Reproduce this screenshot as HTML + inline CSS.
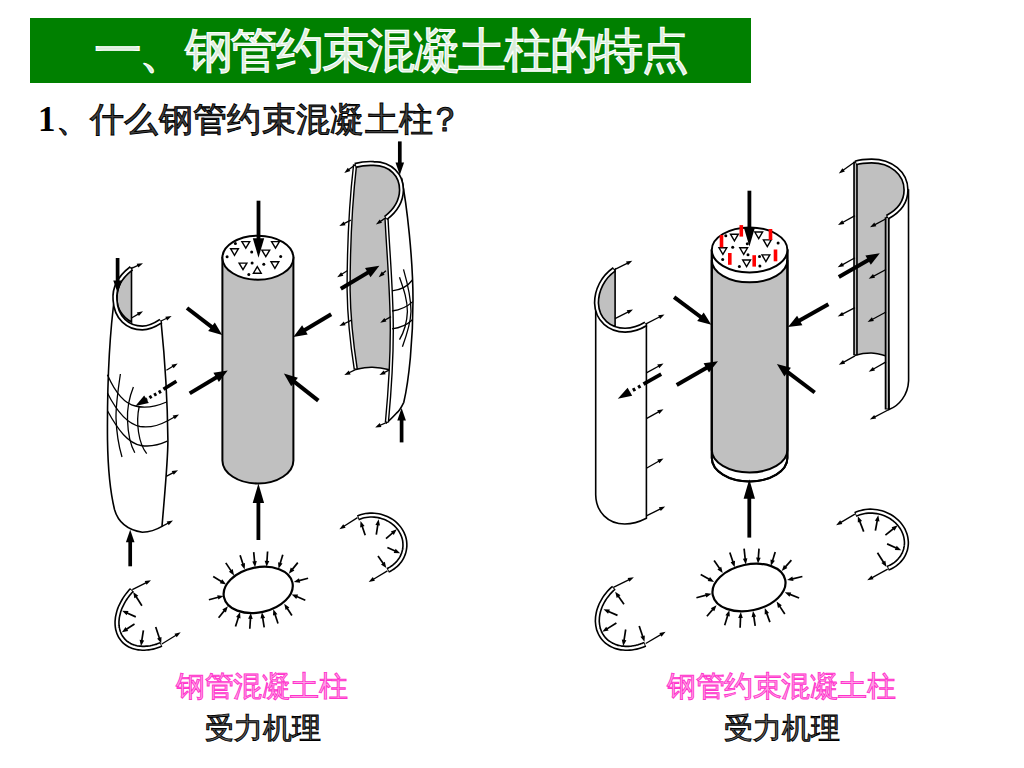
<!DOCTYPE html>
<html><head><meta charset="utf-8"><style>
html,body{margin:0;padding:0;background:#fff;width:1024px;height:768px;overflow:hidden}
body{position:relative;font-family:"Liberation Sans",sans-serif}
.t{position:absolute;white-space:nowrap;line-height:1}
#bar{position:absolute;left:30px;top:18px;width:721px;height:65px;background:#008000}
#title{left:93.5px;top:27px;font-size:47.5px;letter-spacing:-2.4px;color:#d8ecd8;-webkit-text-stroke:1.1px #fff;font-weight:500}
#q{left:38px;top:102px;font-size:34.3px;letter-spacing:0.3px;color:#444;-webkit-text-stroke:1px #000;font-weight:500}
#q b{font-family:"Liberation Serif",serif;font-weight:bold;font-size:35px;color:#000;-webkit-text-stroke:0}
.pink{color:#ffa0e6;-webkit-text-stroke:0.9px #ff33cc;font-size:28.6px;letter-spacing:-0.5px;font-weight:500}
.blk{color:#666;-webkit-text-stroke:1px #000;font-size:29px;font-weight:500}
svg{position:absolute;left:0;top:0}
</style></head><body>
<div id="bar"></div>
<div class="t" id="title">一、钢管约束混凝土柱的特点</div>
<div class="t" id="q"><b>1</b>、什么钢管约束混凝土柱<span style="margin-left:-5px">？</span></div>
<svg width="1024" height="768" viewBox="0 0 1024 768">
<path d="M222.39999999999998,257.7 L222.39999999999998,460.5 A35.5,23 0 0 0 293.4,460.5 L293.4,257.7 Z" fill="#c0c0c0" stroke="#000" stroke-width="2"/>
<ellipse cx="257.9" cy="257.7" rx="35.5" ry="22" fill="#fff" stroke="#000" stroke-width="2"/>
<polygon points="241.9,241.6 249.7,241.6 245.8,248.2" fill="#fff" stroke="#000" stroke-width="1.4"/>
<polygon points="230.6,248.7 238.4,248.7 234.5,255.3" fill="#fff" stroke="#000" stroke-width="1.4"/>
<polygon points="261.9,250.1 269.7,250.1 265.8,256.7" fill="#fff" stroke="#000" stroke-width="1.4"/>
<polygon points="271.6,241.6 279.4,241.6 275.5,248.2" fill="#fff" stroke="#000" stroke-width="1.4"/>
<polygon points="239.1,263.1 246.9,263.1 243.0,269.7" fill="#fff" stroke="#000" stroke-width="1.4"/>
<polygon points="271.0,261.8 278.8,261.8 274.9,268.4" fill="#fff" stroke="#000" stroke-width="1.4"/>
<polygon points="253.4,273.2 261.2,273.2 257.3,266.6" fill="#fff" stroke="#000" stroke-width="1.4"/>
<circle cx="235.4" cy="243.4" r="1.5" fill="#000"/>
<circle cx="227.1" cy="256.7" r="1.5" fill="#000"/>
<circle cx="251.7" cy="252.1" r="1.5" fill="#000"/>
<circle cx="280.7" cy="256.4" r="1.5" fill="#000"/>
<circle cx="252.1" cy="262.9" r="1.5" fill="#000"/>
<circle cx="263.8" cy="264.2" r="1.5" fill="#000"/>
<circle cx="248.8" cy="274.6" r="1.5" fill="#000"/>
<line x1="258.5" y1="200.7" x2="258.5" y2="246.0" stroke="#000" stroke-width="3.8"/>
<polygon points="258.5,257.7 252.8,238.2 264.2,238.2" fill="#000"/>
<line x1="258.4" y1="540.0" x2="258.4" y2="495.2" stroke="#000" stroke-width="3.8"/>
<polygon points="258.4,483.5 264.1,503.0 252.7,503.0" fill="#000"/>
<line x1="187.0" y1="308.0" x2="215.8" y2="330.1" stroke="#000" stroke-width="4.0"/>
<polygon points="222.2,335.0 208.2,331.1 214.8,322.5" fill="#000"/>
<line x1="331.2" y1="314.2" x2="300.2" y2="332.7" stroke="#000" stroke-width="4.0"/>
<polygon points="293.3,336.9 302.1,325.3 307.7,334.6" fill="#000"/>
<line x1="189.7" y1="393.4" x2="220.8" y2="374.7" stroke="#000" stroke-width="4.0"/>
<polygon points="227.7,370.5 218.9,382.1 213.4,372.8" fill="#000"/>
<line x1="318.3" y1="400.6" x2="290.3" y2="378.6" stroke="#000" stroke-width="4.0"/>
<polygon points="283.9,373.6 297.9,377.7 291.2,386.2" fill="#000"/>
<path d="M115,294 C110,330 107,380 107.5,440 C108,475 111,495 114.5,509.5 C118,522 128,530 142.4,532.3 C150,532 156,530 162,526.4 C165,490 168,460 167.9,440 C167.5,400 165,360 161,321" fill="#fff" stroke="#000" stroke-width="1.6"/>
<path d="M131.5,268.3 C122,276 117,287 117,299 C117,308 122,317 131.5,322 Z" fill="#c0c0c0" stroke="#000" stroke-width="1.6"/>
<path d="M131.5,268.3 C120,277 114,288 115,300 C116,318 128,328 142.3,328 C149,328 155,325 161,321" fill="none" stroke="#000" stroke-width="5.5"/>
<path d="M131.5,268.3 C120,277 114,288 115,300 C116,318 128,328 142.3,328 C149,328 155,325 161,321" fill="none" stroke="#fff" stroke-width="2.2" stroke-dasharray="99.4 111.2" stroke-dashoffset="-0.9"/>
<path d="M107.4,374.8 C115,392 125,404 135.4,406 C143,408 155,407 166.6,402" fill="none" stroke="#000" stroke-width="1.3"/>
<path d="M107.4,393 C117,412 128,424 140,426.5 C150,428 158,426 167.2,421" fill="none" stroke="#000" stroke-width="1.3"/>
<path d="M107.6,411 C118,430 128,443 141,445.5 C150,447 159,445 167.3,441.2" fill="none" stroke="#000" stroke-width="1.3"/>
<path d="M120.4,374 C118,390 115.8,405 116,418 C116.5,432 119,447 122,457" fill="none" stroke="#000" stroke-width="1.3"/>
<path d="M133.4,387 C129,398 127,408 127.5,420 C128,434 131,446 134.8,452.7" fill="none" stroke="#000" stroke-width="1.3"/>
<path d="M139.3,406 C137.5,414 137,422 138.5,432 C140,442 143,449 146.7,453.6" fill="none" stroke="#000" stroke-width="1.3"/>
<line x1="117.6" y1="258.0" x2="117.6" y2="285.5" stroke="#000" stroke-width="3.7"/>
<polygon points="117.6,293.0 113.3,280.5 121.9,280.5" fill="#000"/>
<line x1="130.2" y1="566.3" x2="130.2" y2="537.3" stroke="#000" stroke-width="3.7"/>
<polygon points="130.2,529.8 134.5,542.3 125.9,542.3" fill="#000"/>
<line x1="131.5" y1="268.3" x2="139.7" y2="264.7" stroke="#000" stroke-width="1.3"/>
<polygon points="143.0,263.2 138.4,267.6 136.7,263.7" fill="#000"/>
<line x1="131.5" y1="318.0" x2="139.9" y2="313.1" stroke="#000" stroke-width="1.3"/>
<polygon points="143.0,311.3 138.9,316.1 136.8,312.5" fill="#000"/>
<line x1="161.0" y1="321.0" x2="168.3" y2="317.5" stroke="#000" stroke-width="1.3"/>
<polygon points="171.6,316.0 167.1,320.5 165.3,316.7" fill="#000"/>
<line x1="166.4" y1="370.2" x2="174.6" y2="365.3" stroke="#000" stroke-width="1.3"/>
<polygon points="177.7,363.4 173.6,368.3 171.5,364.7" fill="#000"/>
<line x1="167.3" y1="421.0" x2="175.9" y2="416.2" stroke="#000" stroke-width="1.3"/>
<polygon points="179.0,414.5 174.8,419.2 172.7,415.6" fill="#000"/>
<line x1="166.2" y1="476.4" x2="174.8" y2="471.9" stroke="#000" stroke-width="1.3"/>
<polygon points="178.0,470.2 173.7,474.8 171.7,471.1" fill="#000"/>
<line x1="162.0" y1="526.4" x2="169.8" y2="522.2" stroke="#000" stroke-width="1.3"/>
<polygon points="173.0,520.5 168.7,525.2 166.7,521.5" fill="#000"/>
<line x1="176.4" y1="381.3" x2="163.5" y2="389.3" stroke="#000" stroke-width="3.6"/>
<line x1="161" y1="391.3" x2="146" y2="399.5" stroke="#000" stroke-width="3.3" stroke-dasharray="2.6 2.7"/>
<line x1="150.0" y1="397.0" x2="142.0" y2="401.9" stroke="#000" stroke-width="0.1"/>
<polygon points="135.4,406.0 144.2,395.4 148.8,402.9" fill="#000"/>
<path d="M355.1,164.4 C351,200 348.6,250 348.6,290 C349,320 352,345 355.8,369.4 C362,368 368,367 372.3,367.2 C378,367.5 384,368.5 389.5,369.8 C391,360 391.8,350 391.6,330 C391.6,300 389,260 386,218.1 C395,212 401.5,200 401.5,189.4 C401.5,174 391,163.5 373.7,163.5 C365,163.3 359,164 355.1,165.5 Z" fill="#c0c0c0" stroke="none"/>
<path d="M386,218 C395,212 401.5,200 401.5,189.4 C401.5,183 401.5,180 401.5,178 C407,205 413,260 413,300 C413,340 409,380 403.8,402.3 C401,408 398,412 396.6,413 C393,417 390,420 386.9,422.4 C389,400 391.6,350 391.6,330 C391.6,300 389,260 386,218 Z" fill="#fff" stroke="#000" stroke-width="1.6"/>
<path d="M355.8,369.4 C362,368 368,367 372.3,367.2 C378,367.5 384,368.5 389.5,369.8" fill="none" stroke="#000" stroke-width="1.6"/>
<path d="M355.1,164.4 C351,200 348.6,250 348.6,290 C349,320 352,345 355.8,369.4" fill="none" stroke="#000" stroke-width="4.4"/>
<path d="M355.1,164.4 C351,200 348.6,250 348.6,290 C349,320 352,345 355.8,369.4" fill="none" stroke="#fff" stroke-width="1.6" stroke-dasharray="203.8 215.6" stroke-dashoffset="-0.9"/>
<path d="M386.5,218.1 C388,250 391.8,290 391.8,330 C391.8,360 389,400 386.9,422.4" fill="none" stroke="#000" stroke-width="4.4"/>
<path d="M386.5,218.1 C388,250 391.8,290 391.8,330 C391.8,360 389,400 386.9,422.4" fill="none" stroke="#fff" stroke-width="1.6" stroke-dasharray="202.8 214.6" stroke-dashoffset="-0.9"/>
<path d="M355.1,165.5 C362,163.5 368,163.2 373.7,163.5 C391,163.7 401.5,175 401.5,190 C401.3,201 395,211 385.6,218.1" fill="none" stroke="#000" stroke-width="5.5"/>
<path d="M355.1,165.5 C362,163.5 368,163.2 373.7,163.5 C391,163.7 401.5,175 401.5,190 C401.3,201 395,211 385.6,218.1" fill="none" stroke="#fff" stroke-width="2.2" stroke-dasharray="93.5 105.3" stroke-dashoffset="-0.9"/>
<path d="M392,290.9 C400,290 408,286 412.4,280" fill="none" stroke="#000" stroke-width="1.3"/>
<path d="M392,311 C400,310 408,306 412.7,301.6" fill="none" stroke="#000" stroke-width="1.3"/>
<path d="M392,328.8 C400,328 408,324 412.7,319.5" fill="none" stroke="#000" stroke-width="1.3"/>
<path d="M399.5,277.2 C404,290 407.4,300 407.4,311.6 C407,322 404,332 399.5,339.6" fill="none" stroke="#000" stroke-width="1.3"/>
<path d="M403.5,269.4 C408,285 411,300 411,311.6 C410.5,325 406,337 402.4,346.7" fill="none" stroke="#000" stroke-width="1.3"/>
<line x1="399.8" y1="141.4" x2="399.8" y2="167.6" stroke="#000" stroke-width="3.7"/>
<polygon points="399.8,175.1 395.5,162.6 404.1,162.6" fill="#000"/>
<line x1="401.6" y1="442.4" x2="401.6" y2="415.5" stroke="#000" stroke-width="3.7"/>
<polygon points="401.6,408.0 405.9,420.5 397.3,420.5" fill="#000"/>
<line x1="340.8" y1="288.7" x2="372.4" y2="269.9" stroke="#000" stroke-width="4.0"/>
<polygon points="379.4,265.8 370.5,277.3 365.0,268.0" fill="#000"/>
<line x1="355.0" y1="165.0" x2="347.2" y2="170.8" stroke="#000" stroke-width="1.3"/>
<polygon points="344.3,173.0 347.8,167.7 350.4,171.1" fill="#000"/>
<line x1="350.8" y1="220.2" x2="342.5" y2="224.4" stroke="#000" stroke-width="1.3"/>
<polygon points="339.3,226.0 343.7,221.4 345.6,225.2" fill="#000"/>
<line x1="385.2" y1="218.1" x2="378.9" y2="222.5" stroke="#000" stroke-width="1.3"/>
<polygon points="375.9,224.5 379.7,219.4 382.0,222.8" fill="#000"/>
<line x1="347.2" y1="270.8" x2="340.2" y2="275.3" stroke="#000" stroke-width="1.3"/>
<polygon points="337.2,277.2 341.1,272.2 343.4,275.7" fill="#000"/>
<line x1="385.9" y1="270.8" x2="381.4" y2="274.8" stroke="#000" stroke-width="1.3"/>
<polygon points="378.7,277.2 381.8,271.6 384.6,274.8" fill="#000"/>
<line x1="351.5" y1="320.2" x2="342.6" y2="324.5" stroke="#000" stroke-width="1.3"/>
<polygon points="339.3,326.0 343.8,321.5 345.6,325.3" fill="#000"/>
<line x1="391.0" y1="316.6" x2="383.3" y2="321.0" stroke="#000" stroke-width="1.3"/>
<polygon points="380.2,322.8 384.4,318.0 386.4,321.6" fill="#000"/>
<line x1="356.0" y1="369.4" x2="347.5" y2="373.5" stroke="#000" stroke-width="1.3"/>
<polygon points="344.3,375.1 348.8,370.6 350.6,374.4" fill="#000"/>
<line x1="389.5" y1="369.8" x2="382.6" y2="373.4" stroke="#000" stroke-width="1.3"/>
<polygon points="379.4,375.1 383.7,370.5 385.7,374.2" fill="#000"/>
<line x1="386.9" y1="422.4" x2="378.4" y2="426.0" stroke="#000" stroke-width="1.3"/>
<polygon points="375.1,427.4 379.8,423.1 381.4,427.0" fill="#000"/>
<path d="M132.0,589.8 L130.3,591.6 L128.8,593.4 L127.3,595.3 L125.9,597.2 L124.6,599.2 L123.4,601.2 L122.3,603.2 L121.3,605.2 L120.3,607.3 L119.5,609.3 L118.8,611.4 L118.3,613.5 L117.8,615.5 L117.4,617.5 L117.2,619.5 L117.0,621.5 L117.0,623.5 L117.1,625.4 L117.3,627.2 L117.6,629.1 L118.1,630.8 L118.6,632.5 L119.3,634.1 L120.0,635.7 L120.9,637.2 L121.9,638.6 L123.0,639.9 L124.1,641.2 L125.4,642.3 L126.8,643.4 L128.2,644.3 L129.7,645.2 L131.4,646.0 L133.0,646.6 L134.8,647.2 L136.6,647.6 L138.5,647.9 L140.4,648.1 L142.4,648.3 L144.4,648.3 L146.4,648.1 L148.5,647.9 L150.6,647.6 L152.7,647.2 L154.9,646.6 L157.0,646.0 L159.2,645.2 L161.3,644.3" fill="none" stroke="#000" stroke-width="5.5"/>
<path d="M132.0,589.8 L130.3,591.6 L128.8,593.4 L127.3,595.3 L125.9,597.2 L124.6,599.2 L123.4,601.2 L122.3,603.2 L121.3,605.2 L120.3,607.3 L119.5,609.3 L118.8,611.4 L118.3,613.5 L117.8,615.5 L117.4,617.5 L117.2,619.5 L117.0,621.5 L117.0,623.5 L117.1,625.4 L117.3,627.2 L117.6,629.1 L118.1,630.8 L118.6,632.5 L119.3,634.1 L120.0,635.7 L120.9,637.2 L121.9,638.6 L123.0,639.9 L124.1,641.2 L125.4,642.3 L126.8,643.4 L128.2,644.3 L129.7,645.2 L131.4,646.0 L133.0,646.6 L134.8,647.2 L136.6,647.6 L138.5,647.9 L140.4,648.1 L142.4,648.3 L144.4,648.3 L146.4,648.1 L148.5,647.9 L150.6,647.6 L152.7,647.2 L154.9,646.6 L157.0,646.0 L159.2,645.2 L161.3,644.3" fill="none" stroke="#fff" stroke-width="2.3" stroke-dasharray="95.1 106.9" stroke-dashoffset="-0.9"/>
<line x1="132.3" y1="589.7" x2="147.8" y2="581.8" stroke="#000" stroke-width="1.3"/>
<polygon points="151.0,580.2 146.6,584.8 144.7,581.0" fill="#000"/>
<line x1="141.9" y1="605.8" x2="135.1" y2="595.0" stroke="#000" stroke-width="1.7"/>
<polygon points="133.2,591.9 138.3,595.8 134.4,598.2" fill="#000"/>
<line x1="135.8" y1="616.9" x2="125.4" y2="612.3" stroke="#000" stroke-width="1.7"/>
<polygon points="122.1,610.8 128.5,611.1 126.6,615.3" fill="#000"/>
<line x1="134.5" y1="624.0" x2="124.9" y2="630.3" stroke="#000" stroke-width="1.7"/>
<polygon points="121.9,632.3 125.6,627.1 128.2,630.9" fill="#000"/>
<line x1="143.4" y1="630.3" x2="141.5" y2="642.4" stroke="#000" stroke-width="1.7"/>
<polygon points="141.0,646.0 139.6,639.7 144.2,640.4" fill="#000"/>
<line x1="155.7" y1="627.0" x2="160.0" y2="639.9" stroke="#000" stroke-width="1.7"/>
<polygon points="161.2,643.3 157.1,638.4 161.5,636.9" fill="#000"/>
<line x1="161.8" y1="644.0" x2="177.6" y2="634.2" stroke="#000" stroke-width="1.3"/>
<polygon points="180.7,632.3 176.7,637.2 174.5,633.7" fill="#000"/>
<ellipse cx="258.2" cy="589.9" rx="35" ry="22.5" transform="rotate(-12 258.2 589.9)" fill="#fff" stroke="#000" stroke-width="2.2"/>
<line x1="225.8" y1="562.9" x2="232.1" y2="572.4" stroke="#000" stroke-width="1.7"/>
<polygon points="234.1,575.4 228.9,571.7 232.7,569.1" fill="#000"/>
<line x1="240.1" y1="555.3" x2="243.6" y2="566.0" stroke="#000" stroke-width="1.7"/>
<polygon points="244.7,569.4 240.7,564.4 245.0,563.0" fill="#000"/>
<line x1="253.7" y1="552.2" x2="254.8" y2="563.6" stroke="#000" stroke-width="1.7"/>
<polygon points="255.1,567.2 252.3,561.4 256.8,561.0" fill="#000"/>
<line x1="267.6" y1="551.5" x2="266.8" y2="563.2" stroke="#000" stroke-width="1.7"/>
<polygon points="266.6,566.8 264.7,560.7 269.3,561.0" fill="#000"/>
<line x1="282.8" y1="554.8" x2="279.6" y2="565.3" stroke="#000" stroke-width="1.7"/>
<polygon points="278.5,568.7 278.1,562.3 282.5,563.6" fill="#000"/>
<line x1="297.8" y1="562.6" x2="291.1" y2="570.9" stroke="#000" stroke-width="1.7"/>
<polygon points="288.8,573.7 290.8,567.6 294.4,570.5" fill="#000"/>
<line x1="308.1" y1="578.2" x2="297.3" y2="581.1" stroke="#000" stroke-width="1.7"/>
<polygon points="293.8,582.0 299.0,578.2 300.2,582.7" fill="#000"/>
<line x1="305.3" y1="600.2" x2="295.0" y2="595.8" stroke="#000" stroke-width="1.7"/>
<polygon points="291.7,594.4 298.1,594.6 296.3,598.9" fill="#000"/>
<line x1="291.9" y1="615.5" x2="286.2" y2="606.7" stroke="#000" stroke-width="1.7"/>
<polygon points="284.2,603.7 289.4,607.5 285.6,610.0" fill="#000"/>
<line x1="278.0" y1="623.5" x2="274.4" y2="612.6" stroke="#000" stroke-width="1.7"/>
<polygon points="273.3,609.2 277.4,614.2 273.0,615.6" fill="#000"/>
<line x1="264.2" y1="627.4" x2="262.4" y2="615.9" stroke="#000" stroke-width="1.7"/>
<polygon points="261.9,612.3 265.1,617.9 260.5,618.6" fill="#000"/>
<line x1="249.8" y1="628.8" x2="250.6" y2="616.6" stroke="#000" stroke-width="1.7"/>
<polygon points="250.8,613.0 252.7,619.1 248.1,618.8" fill="#000"/>
<line x1="235.5" y1="626.4" x2="239.0" y2="615.4" stroke="#000" stroke-width="1.7"/>
<polygon points="240.1,612.0 240.5,618.4 236.1,617.0" fill="#000"/>
<line x1="218.6" y1="617.8" x2="225.6" y2="609.1" stroke="#000" stroke-width="1.7"/>
<polygon points="227.9,606.3 225.9,612.4 222.3,609.5" fill="#000"/>
<line x1="208.9" y1="599.7" x2="220.1" y2="596.8" stroke="#000" stroke-width="1.7"/>
<polygon points="223.6,595.9 218.4,599.6 217.2,595.2" fill="#000"/>
<line x1="213.2" y1="576.5" x2="223.0" y2="582.5" stroke="#000" stroke-width="1.7"/>
<polygon points="226.1,584.4 219.8,583.2 222.2,579.3" fill="#000"/>
<path d="M357.9,517.8 L359.8,517.1 L361.8,516.4 L363.8,515.9 L365.8,515.5 L367.9,515.3 L370.0,515.1 L372.1,515.1 L374.3,515.2 L376.4,515.4 L378.4,515.7 L380.5,516.2 L382.5,516.8 L384.5,517.5 L386.5,518.3 L388.3,519.2 L390.1,520.2 L391.9,521.3 L393.5,522.5 L395.1,523.8 L396.5,525.2 L397.9,526.7 L399.2,528.3 L400.3,529.9 L401.3,531.6 L402.2,533.3 L403.0,535.1 L403.7,536.9 L404.2,538.7 L404.6,540.6 L404.8,542.5 L404.9,544.4 L404.9,546.3 L404.7,548.2 L404.4,550.0 L404.0,551.9 L403.4,553.7 L402.7,555.5 L401.9,557.2 L401.0,558.9 L399.9,560.5 L398.7,562.0 L397.4,563.5 L396.0,564.9 L394.5,566.2 L392.9,567.4 L391.2,568.5 L389.5,569.5 L387.7,570.4" fill="none" stroke="#000" stroke-width="5.5"/>
<path d="M357.9,517.8 L359.8,517.1 L361.8,516.4 L363.8,515.9 L365.8,515.5 L367.9,515.3 L370.0,515.1 L372.1,515.1 L374.3,515.2 L376.4,515.4 L378.4,515.7 L380.5,516.2 L382.5,516.8 L384.5,517.5 L386.5,518.3 L388.3,519.2 L390.1,520.2 L391.9,521.3 L393.5,522.5 L395.1,523.8 L396.5,525.2 L397.9,526.7 L399.2,528.3 L400.3,529.9 L401.3,531.6 L402.2,533.3 L403.0,535.1 L403.7,536.9 L404.2,538.7 L404.6,540.6 L404.8,542.5 L404.9,544.4 L404.9,546.3 L404.7,548.2 L404.4,550.0 L404.0,551.9 L403.4,553.7 L402.7,555.5 L401.9,557.2 L401.0,558.9 L399.9,560.5 L398.7,562.0 L397.4,563.5 L396.0,564.9 L394.5,566.2 L392.9,567.4 L391.2,568.5 L389.5,569.5 L387.7,570.4" fill="none" stroke="#fff" stroke-width="2.3" stroke-dasharray="94.3 106.1" stroke-dashoffset="-0.9"/>
<line x1="357.5" y1="517.6" x2="342.4" y2="527.3" stroke="#000" stroke-width="1.3"/>
<polygon points="339.4,529.3 343.3,524.3 345.6,527.8" fill="#000"/>
<line x1="365.2" y1="535.2" x2="361.6" y2="524.5" stroke="#000" stroke-width="1.7"/>
<polygon points="360.5,521.1 364.6,526.1 360.2,527.5" fill="#000"/>
<line x1="376.3" y1="534.6" x2="378.1" y2="522.9" stroke="#000" stroke-width="1.7"/>
<polygon points="378.6,519.3 380.0,525.6 375.4,524.9" fill="#000"/>
<line x1="386.0" y1="538.7" x2="394.1" y2="531.7" stroke="#000" stroke-width="1.7"/>
<polygon points="396.8,529.3 393.8,535.0 390.8,531.5" fill="#000"/>
<line x1="387.4" y1="547.5" x2="396.8" y2="551.8" stroke="#000" stroke-width="1.7"/>
<polygon points="400.1,553.3 393.7,552.9 395.6,548.7" fill="#000"/>
<line x1="378.0" y1="556.0" x2="384.3" y2="565.0" stroke="#000" stroke-width="1.7"/>
<polygon points="386.3,568.0 381.0,564.4 384.8,561.8" fill="#000"/>
<line x1="387.4" y1="570.9" x2="371.8" y2="580.2" stroke="#000" stroke-width="1.3"/>
<polygon points="368.7,582.0 372.8,577.1 374.9,580.7" fill="#000"/>
<path d="M711.8000000000001,249.9 L711.8000000000001,458 A37.8,23.5 0 0 0 787.4,458 L787.4,249.9 Z" fill="#fff" stroke="#000" stroke-width="2"/>
<path d="M711.8000000000001,259.9 L711.8000000000001,450 A37.8,22.5 0 0 0 787.4,450 L787.4,259.9 A37.8,22.5 0 0 1 711.8000000000001,259.9 Z" fill="#c0c0c0" stroke="#000" stroke-width="2"/>
<path d="M711.8000000000001,249.9 L711.8000000000001,458 A37.8,23.5 0 0 0 787.4,458 L787.4,249.9" fill="none" stroke="#000" stroke-width="2"/>
<ellipse cx="749.6" cy="249.9" rx="37.8" ry="22.5" fill="#fff" stroke="#000" stroke-width="2"/>
<polygon points="730.5,234.2 738.3,234.2 734.4,240.8" fill="#fff" stroke="#000" stroke-width="1.4"/>
<polygon points="754.8,232.0 762.6,232.0 758.7,238.6" fill="#fff" stroke="#000" stroke-width="1.4"/>
<polygon points="763.4,239.9 771.2,239.9 767.3,246.5" fill="#fff" stroke="#000" stroke-width="1.4"/>
<polygon points="719.0,247.8 726.8,247.8 722.9,254.4" fill="#fff" stroke="#000" stroke-width="1.4"/>
<polygon points="739.8,247.8 747.6,247.8 743.7,254.4" fill="#fff" stroke="#000" stroke-width="1.4"/>
<polygon points="762.0,254.9 769.8,254.9 765.9,261.5" fill="#fff" stroke="#000" stroke-width="1.4"/>
<polygon points="742.7,260.0 750.5,260.0 746.6,266.6" fill="#fff" stroke="#000" stroke-width="1.4"/>
<circle cx="725.8" cy="235.8" r="1.5" fill="#000"/>
<circle cx="732.7" cy="247.3" r="1.5" fill="#000"/>
<circle cx="778.1" cy="243.0" r="1.5" fill="#000"/>
<circle cx="747.3" cy="243.7" r="1.5" fill="#000"/>
<circle cx="748.0" cy="254.8" r="1.5" fill="#000"/>
<circle cx="722.7" cy="259.5" r="1.5" fill="#000"/>
<circle cx="759.5" cy="256.6" r="1.5" fill="#000"/>
<circle cx="739.4" cy="266.6" r="1.5" fill="#000"/>
<circle cx="759.9" cy="265.9" r="1.5" fill="#000"/>
<rect x="739.5" y="225.1" width="3.6" height="11.5" fill="#ff0000"/>
<rect x="719.7" y="235.1" width="3.6" height="12.2" fill="#ff0000"/>
<rect x="768.7" y="229.0" width="3.6" height="10.9" fill="#ff0000"/>
<rect x="728.0" y="253.0" width="3.6" height="11.8" fill="#ff0000"/>
<rect x="752.4" y="255.2" width="3.6" height="11.4" fill="#ff0000"/>
<rect x="773.7" y="249.5" width="3.6" height="11.8" fill="#ff0000"/>
<line x1="749.4" y1="190.7" x2="749.4" y2="234.9" stroke="#000" stroke-width="3.8"/>
<polygon points="749.4,246.6 743.7,227.1 755.1,227.1" fill="#000"/>
<line x1="749.3" y1="537.6" x2="749.3" y2="491.0" stroke="#000" stroke-width="3.8"/>
<polygon points="749.3,479.3 755.0,498.8 743.6,498.8" fill="#000"/>
<line x1="674.1" y1="297.2" x2="704.8" y2="320.0" stroke="#000" stroke-width="4.0"/>
<polygon points="711.3,324.8 697.2,321.1 703.7,312.4" fill="#000"/>
<line x1="828.4" y1="304.3" x2="795.1" y2="323.1" stroke="#000" stroke-width="4.0"/>
<polygon points="788.0,327.1 797.1,315.8 802.4,325.2" fill="#000"/>
<line x1="676.7" y1="385.1" x2="711.0" y2="365.3" stroke="#000" stroke-width="4.0"/>
<polygon points="718.0,361.2 709.0,372.6 703.6,363.3" fill="#000"/>
<line x1="814.7" y1="392.5" x2="783.4" y2="368.9" stroke="#000" stroke-width="4.0"/>
<polygon points="776.9,364.0 790.9,367.8 784.4,376.4" fill="#000"/>
<path d="M595.7,303 L595.7,494.8 C596,512 608,524 624.8,524 C633,524 640,521.5 646.4,518.2 L646.4,323.8" fill="#fff" stroke="#000" stroke-width="1.6"/>
<path d="M615.1,269.3 C604,278 598,290 598,303 C598,317 607,326 615.1,326 Z" fill="#c0c0c0" stroke="#000" stroke-width="1.6"/>
<path d="M614.4,269.3 C603,277 596.5,290 596.5,303 C597,320 610,330.2 625.1,330.2 C633,330 640,327.5 645.9,323.8" fill="none" stroke="#000" stroke-width="5.5"/>
<path d="M614.4,269.3 C603,277 596.5,290 596.5,303 C597,320 610,330.2 625.1,330.2 C633,330 640,327.5 645.9,323.8" fill="none" stroke="#fff" stroke-width="2.2" stroke-dasharray="103.9 115.7" stroke-dashoffset="-0.9"/>
<line x1="615.0" y1="269.3" x2="629.1" y2="262.3" stroke="#000" stroke-width="1.3"/>
<polygon points="632.3,260.7 627.9,265.3 626.0,261.5" fill="#000"/>
<line x1="615.0" y1="318.7" x2="629.8" y2="311.1" stroke="#000" stroke-width="1.3"/>
<polygon points="633.0,309.4 628.6,314.0 626.7,310.3" fill="#000"/>
<line x1="646.0" y1="323.8" x2="661.3" y2="316.0" stroke="#000" stroke-width="1.3"/>
<polygon points="664.5,314.4 660.1,319.0 658.2,315.2" fill="#000"/>
<line x1="646.4" y1="372.9" x2="660.3" y2="365.2" stroke="#000" stroke-width="1.3"/>
<polygon points="663.5,363.5 659.3,368.2 657.2,364.6" fill="#000"/>
<line x1="646.4" y1="418.6" x2="660.3" y2="410.9" stroke="#000" stroke-width="1.3"/>
<polygon points="663.5,409.2 659.3,413.9 657.2,410.3" fill="#000"/>
<line x1="646.4" y1="468.3" x2="660.4" y2="460.2" stroke="#000" stroke-width="1.3"/>
<polygon points="663.5,458.4 659.4,463.2 657.3,459.6" fill="#000"/>
<line x1="646.4" y1="515.8" x2="662.0" y2="508.1" stroke="#000" stroke-width="1.3"/>
<polygon points="665.2,506.5 660.8,511.0 658.9,507.3" fill="#000"/>
<line x1="661.2" y1="374.1" x2="643.5" y2="384.1" stroke="#000" stroke-width="3.8"/>
<line x1="640.5" y1="386" x2="631" y2="391.3" stroke="#000" stroke-width="3.4" stroke-dasharray="2.8 3.2"/>
<line x1="632.0" y1="390.5" x2="625.1" y2="394.5" stroke="#000" stroke-width="0.1"/>
<polygon points="617.8,398.7 627.6,387.7 632.2,395.7" fill="#000"/>
<path d="M855.5,163 L855.5,355.2 C861,353.5 866,353 871,353 C876,353 881,354.5 887,356.3 L887,217.2 C898,211 906,202 906,190 C906,173 891,161 871.6,161 C865,161 860,161.5 855.5,163 Z" fill="#c0c0c0" stroke="#000" stroke-width="1.6"/>
<path d="M887,217.2 C898,211 906,202 906,190 L908.5,190 L908.6,380.7 C908,395 899,406 889,409.5 Z" fill="#fff" stroke="#000" stroke-width="1.6"/>
<path d="M855.5,161.7 L855.5,355.2" fill="none" stroke="#000" stroke-width="4.6"/>
<path d="M855.5,161.7 L855.5,355.2" fill="none" stroke="#c0c0c0" stroke-width="1.3" stroke-dasharray="191.7 203.5" stroke-dashoffset="-0.9"/>
<path d="M887.2,217.2 L887.2,409.5" fill="none" stroke="#000" stroke-width="5.0"/>
<path d="M887.2,217.2 L887.2,409.5" fill="none" stroke="#c0c0c0" stroke-width="1.5" stroke-dasharray="190.5 202.3" stroke-dashoffset="-0.9"/>
<path d="M855.5,163 C860,161.5 865,161 871.6,161 C891,161 906,173 906,190 C906,202 899,211 887.2,217.2" fill="none" stroke="#000" stroke-width="5.5"/>
<path d="M855.5,163 C860,161.5 865,161 871.6,161 C891,161 906,173 906,190 C906,202 899,211 887.2,217.2" fill="none" stroke="#fff" stroke-width="2.2" stroke-dasharray="99.6 111.4" stroke-dashoffset="-0.9"/>
<line x1="838.8" y1="277.0" x2="872.8" y2="257.4" stroke="#000" stroke-width="4.0"/>
<polygon points="879.8,253.3 870.8,264.7 865.4,255.4" fill="#000"/>
<line x1="855.0" y1="161.7" x2="841.7" y2="171.3" stroke="#000" stroke-width="1.3"/>
<polygon points="838.8,173.4 842.4,168.2 844.9,171.6" fill="#000"/>
<line x1="855.0" y1="215.6" x2="841.2" y2="223.3" stroke="#000" stroke-width="1.3"/>
<polygon points="838.0,225.0 842.2,220.3 844.3,223.9" fill="#000"/>
<line x1="886.0" y1="218.8" x2="873.2" y2="225.6" stroke="#000" stroke-width="1.3"/>
<polygon points="870.0,227.3 874.3,222.6 876.3,226.3" fill="#000"/>
<line x1="855.0" y1="257.8" x2="840.9" y2="265.6" stroke="#000" stroke-width="1.3"/>
<polygon points="837.7,267.3 841.9,262.6 844.0,266.3" fill="#000"/>
<line x1="886.0" y1="269.5" x2="871.9" y2="277.1" stroke="#000" stroke-width="1.3"/>
<polygon points="868.7,278.8 873.0,274.1 875.0,277.8" fill="#000"/>
<line x1="855.0" y1="307.6" x2="840.9" y2="314.9" stroke="#000" stroke-width="1.3"/>
<polygon points="837.7,316.5 842.1,311.9 844.0,315.6" fill="#000"/>
<line x1="886.0" y1="312.0" x2="870.8" y2="320.3" stroke="#000" stroke-width="1.3"/>
<polygon points="867.6,322.0 871.9,317.3 873.9,321.0" fill="#000"/>
<line x1="855.0" y1="355.9" x2="842.0" y2="363.1" stroke="#000" stroke-width="1.3"/>
<polygon points="838.8,364.8 843.0,360.1 845.1,363.8" fill="#000"/>
<line x1="886.0" y1="361.9" x2="871.8" y2="370.0" stroke="#000" stroke-width="1.3"/>
<polygon points="868.7,371.8 872.9,367.0 875.0,370.6" fill="#000"/>
<line x1="889.0" y1="409.5" x2="873.0" y2="417.8" stroke="#000" stroke-width="1.3"/>
<polygon points="869.8,419.5 874.2,414.9 876.1,418.6" fill="#000"/>
<path d="M613.9,587.7 L612.1,589.3 L610.4,591.0 L608.7,592.8 L607.2,594.7 L605.8,596.5 L604.4,598.5 L603.2,600.5 L602.1,602.5 L601.0,604.6 L600.2,606.6 L599.4,608.7 L598.7,610.8 L598.2,612.9 L597.8,615.1 L597.5,617.1 L597.4,619.2 L597.3,621.3 L597.5,623.3 L597.7,625.3 L598.1,627.2 L598.5,629.1 L599.2,630.9 L599.9,632.7 L600.8,634.4 L601.7,636.0 L602.8,637.5 L604.0,639.0 L605.3,640.3 L606.7,641.6 L608.3,642.8 L609.9,643.8 L611.5,644.8 L613.3,645.6 L615.1,646.4 L617.1,647.0 L619.0,647.5 L621.1,647.9 L623.2,648.1 L625.3,648.3 L627.4,648.3 L629.6,648.2 L631.8,648.0 L634.1,647.6 L636.3,647.2 L638.5,646.6 L640.8,645.9 L643.0,645.1 L645.2,644.2" fill="none" stroke="#000" stroke-width="5.5"/>
<path d="M613.9,587.7 L612.1,589.3 L610.4,591.0 L608.7,592.8 L607.2,594.7 L605.8,596.5 L604.4,598.5 L603.2,600.5 L602.1,602.5 L601.0,604.6 L600.2,606.6 L599.4,608.7 L598.7,610.8 L598.2,612.9 L597.8,615.1 L597.5,617.1 L597.4,619.2 L597.3,621.3 L597.5,623.3 L597.7,625.3 L598.1,627.2 L598.5,629.1 L599.2,630.9 L599.9,632.7 L600.8,634.4 L601.7,636.0 L602.8,637.5 L604.0,639.0 L605.3,640.3 L606.7,641.6 L608.3,642.8 L609.9,643.8 L611.5,644.8 L613.3,645.6 L615.1,646.4 L617.1,647.0 L619.0,647.5 L621.1,647.9 L623.2,648.1 L625.3,648.3 L627.4,648.3 L629.6,648.2 L631.8,648.0 L634.1,647.6 L636.3,647.2 L638.5,646.6 L640.8,645.9 L643.0,645.1 L645.2,644.2" fill="none" stroke="#fff" stroke-width="2.3" stroke-dasharray="100.5 112.3" stroke-dashoffset="-0.9"/>
<line x1="613.4" y1="587.3" x2="630.7" y2="578.9" stroke="#000" stroke-width="1.3"/>
<polygon points="633.9,577.3 629.4,581.8 627.6,578.0" fill="#000"/>
<line x1="624.0" y1="604.3" x2="617.3" y2="594.7" stroke="#000" stroke-width="1.7"/>
<polygon points="615.2,591.7 620.5,595.3 616.7,597.9" fill="#000"/>
<line x1="617.5" y1="615.4" x2="606.8" y2="610.7" stroke="#000" stroke-width="1.7"/>
<polygon points="603.5,609.3 609.9,609.6 608.1,613.8" fill="#000"/>
<line x1="616.4" y1="623.0" x2="605.4" y2="629.9" stroke="#000" stroke-width="1.7"/>
<polygon points="602.3,631.8 606.2,626.7 608.6,630.6" fill="#000"/>
<line x1="625.7" y1="629.5" x2="623.7" y2="642.3" stroke="#000" stroke-width="1.7"/>
<polygon points="623.2,645.9 621.8,639.6 626.4,640.3" fill="#000"/>
<line x1="639.2" y1="625.9" x2="643.4" y2="638.4" stroke="#000" stroke-width="1.7"/>
<polygon points="644.5,641.8 640.4,636.8 644.8,635.4" fill="#000"/>
<line x1="645.7" y1="643.5" x2="662.5" y2="633.6" stroke="#000" stroke-width="1.3"/>
<polygon points="665.6,631.8 661.5,636.7 659.4,633.0" fill="#000"/>
<ellipse cx="749" cy="587.5" rx="37" ry="23" transform="rotate(-12 749 587.5)" fill="#fff" stroke="#000" stroke-width="2.2"/>
<line x1="714.1" y1="560.5" x2="720.7" y2="570.0" stroke="#000" stroke-width="1.7"/>
<polygon points="722.7,573.0 717.4,569.4 721.2,566.8" fill="#000"/>
<line x1="729.8" y1="552.5" x2="733.6" y2="563.8" stroke="#000" stroke-width="1.7"/>
<polygon points="734.7,567.2 730.6,562.2 735.0,560.8" fill="#000"/>
<line x1="744.1" y1="548.6" x2="745.4" y2="560.8" stroke="#000" stroke-width="1.7"/>
<polygon points="745.8,564.4 742.9,558.7 747.4,558.2" fill="#000"/>
<line x1="759.0" y1="548.6" x2="758.2" y2="560.0" stroke="#000" stroke-width="1.7"/>
<polygon points="758.0,563.6 756.1,557.5 760.7,557.8" fill="#000"/>
<line x1="775.2" y1="551.9" x2="772.0" y2="562.4" stroke="#000" stroke-width="1.7"/>
<polygon points="770.9,565.8 770.5,559.4 774.9,560.7" fill="#000"/>
<line x1="791.4" y1="560.1" x2="784.1" y2="568.4" stroke="#000" stroke-width="1.7"/>
<polygon points="781.7,571.1 783.9,565.1 787.4,568.1" fill="#000"/>
<line x1="802.4" y1="576.5" x2="790.6" y2="579.3" stroke="#000" stroke-width="1.7"/>
<polygon points="787.1,580.1 792.4,576.5 793.5,581.0" fill="#000"/>
<line x1="799.1" y1="598.0" x2="788.1" y2="593.6" stroke="#000" stroke-width="1.7"/>
<polygon points="784.8,592.3 791.2,592.4 789.5,596.7" fill="#000"/>
<line x1="784.8" y1="614.0" x2="778.6" y2="604.6" stroke="#000" stroke-width="1.7"/>
<polygon points="776.6,601.6 781.8,605.3 778.0,607.9" fill="#000"/>
<line x1="769.9" y1="622.1" x2="766.0" y2="611.4" stroke="#000" stroke-width="1.7"/>
<polygon points="764.8,608.0 769.0,612.9 764.7,614.4" fill="#000"/>
<line x1="755.2" y1="625.9" x2="753.5" y2="614.5" stroke="#000" stroke-width="1.7"/>
<polygon points="753.0,610.9 756.1,616.5 751.6,617.2" fill="#000"/>
<line x1="740.1" y1="627.8" x2="740.6" y2="615.6" stroke="#000" stroke-width="1.7"/>
<polygon points="740.8,612.0 742.8,618.1 738.2,617.9" fill="#000"/>
<line x1="724.7" y1="625.2" x2="728.3" y2="613.6" stroke="#000" stroke-width="1.7"/>
<polygon points="729.4,610.2 729.8,616.6 725.4,615.2" fill="#000"/>
<line x1="706.9" y1="616.3" x2="714.1" y2="607.9" stroke="#000" stroke-width="1.7"/>
<polygon points="716.5,605.2 714.3,611.2 710.8,608.2" fill="#000"/>
<line x1="696.4" y1="597.7" x2="708.0" y2="594.6" stroke="#000" stroke-width="1.7"/>
<polygon points="711.5,593.7 706.3,597.5 705.1,593.0" fill="#000"/>
<line x1="700.7" y1="574.4" x2="711.0" y2="580.2" stroke="#000" stroke-width="1.7"/>
<polygon points="714.1,582.0 707.7,581.0 710.0,577.0" fill="#000"/>
<path d="M855.3,514.5 L857.3,513.6 L859.3,512.9 L861.4,512.3 L863.6,511.8 L865.7,511.4 L868.0,511.2 L870.2,511.1 L872.5,511.2 L874.7,511.4 L877.0,511.7 L879.2,512.1 L881.4,512.7 L883.6,513.4 L885.7,514.2 L887.8,515.2 L889.8,516.2 L891.7,517.4 L893.5,518.7 L895.2,520.1 L896.9,521.5 L898.4,523.1 L899.8,524.8 L901.1,526.5 L902.2,528.2 L903.3,530.1 L904.1,532.0 L904.9,533.9 L905.5,535.9 L905.9,537.8 L906.2,539.8 L906.4,541.8 L906.4,543.8 L906.2,545.8 L905.9,547.8 L905.5,549.7 L904.8,551.6 L904.1,553.4 L903.2,555.2 L902.2,556.9 L901.0,558.5 L899.7,560.1 L898.3,561.6 L896.8,563.0 L895.2,564.3 L893.4,565.4 L891.6,566.5 L889.7,567.4 L887.7,568.3" fill="none" stroke="#000" stroke-width="5.5"/>
<path d="M855.3,514.5 L857.3,513.6 L859.3,512.9 L861.4,512.3 L863.6,511.8 L865.7,511.4 L868.0,511.2 L870.2,511.1 L872.5,511.2 L874.7,511.4 L877.0,511.7 L879.2,512.1 L881.4,512.7 L883.6,513.4 L885.7,514.2 L887.8,515.2 L889.8,516.2 L891.7,517.4 L893.5,518.7 L895.2,520.1 L896.9,521.5 L898.4,523.1 L899.8,524.8 L901.1,526.5 L902.2,528.2 L903.3,530.1 L904.1,532.0 L904.9,533.9 L905.5,535.9 L905.9,537.8 L906.2,539.8 L906.4,541.8 L906.4,543.8 L906.2,545.8 L905.9,547.8 L905.5,549.7 L904.8,551.6 L904.1,553.4 L903.2,555.2 L902.2,556.9 L901.0,558.5 L899.7,560.1 L898.3,561.6 L896.8,563.0 L895.2,564.3 L893.4,565.4 L891.6,566.5 L889.7,567.4 L887.7,568.3" fill="none" stroke="#fff" stroke-width="2.3" stroke-dasharray="100.5 112.3" stroke-dashoffset="-0.9"/>
<line x1="854.9" y1="514.1" x2="839.2" y2="523.4" stroke="#000" stroke-width="1.3"/>
<polygon points="836.1,525.2 840.2,520.3 842.3,524.0" fill="#000"/>
<line x1="863.7" y1="531.6" x2="859.1" y2="519.6" stroke="#000" stroke-width="1.7"/>
<polygon points="857.8,516.2 862.1,521.0 857.8,522.6" fill="#000"/>
<line x1="875.4" y1="530.7" x2="877.6" y2="518.7" stroke="#000" stroke-width="1.7"/>
<polygon points="878.3,515.2 879.5,521.5 874.9,520.7" fill="#000"/>
<line x1="885.4" y1="535.2" x2="894.9" y2="527.5" stroke="#000" stroke-width="1.7"/>
<polygon points="897.7,525.2 894.5,530.8 891.6,527.2" fill="#000"/>
<line x1="887.1" y1="543.9" x2="897.9" y2="548.7" stroke="#000" stroke-width="1.7"/>
<polygon points="901.2,550.2 894.8,549.9 896.7,545.7" fill="#000"/>
<line x1="877.5" y1="552.7" x2="884.6" y2="564.0" stroke="#000" stroke-width="1.7"/>
<polygon points="886.5,567.0 881.4,563.1 885.3,560.7" fill="#000"/>
<line x1="887.7" y1="569.1" x2="870.4" y2="578.6" stroke="#000" stroke-width="1.3"/>
<polygon points="867.2,580.3 871.5,575.6 873.5,579.3" fill="#000"/>
</svg>
<div class="t pink" style="left:176px;top:672px">钢管混凝土柱</div>
<div class="t blk" style="left:204.5px;top:713.5px">受力机理</div>
<div class="t pink" style="left:667px;top:672px">钢管约束混凝土柱</div>
<div class="t blk" style="left:724px;top:714px">受力机理</div>
</body></html>
